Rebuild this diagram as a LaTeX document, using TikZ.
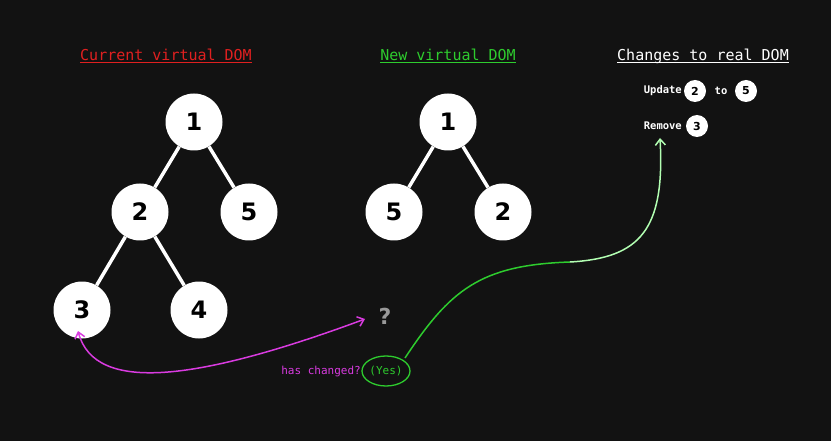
\documentclass[tikz,border=0pt]{standalone}
\usepackage{fontspec}
\setmainfont{DejaVu Sans Mono}
\newfontfamily\digitfont{DejaVu Sans}
\usetikzlibrary{arrows.meta,shapes.geometric}
\definecolor{bg}{HTML}{121212}
\definecolor{mag}{HTML}{D93BE0}
\definecolor{grn}{HTML}{2ECC2E}
\definecolor{tred}{HTML}{E02020}
\tikzset{
  x=1pt,y=-1pt,
  tnode/.style={circle,fill=white,minimum size=57pt,inner sep=0pt,font=\digitfont\bfseries\fontsize{24}{24}\selectfont,text=black},
  snode/.style={circle,fill=white,minimum size=22pt,inner sep=0pt,font=\digitfont\bfseries\fontsize{11}{11}\selectfont,text=black},
  edge/.style={white,line width=3.5pt},
  title/.style={font=\fontsize{15}{15}\selectfont},
  lbl/.style={text=white,font=\bfseries\fontsize{10.5}{10.5}\selectfont,inner sep=0pt}
}
\begin{document}
\begin{tikzpicture}
\fill[bg] (0,0) rectangle (831,441);
\useasboundingbox (0,0) rectangle (831,441);
\node[title,text=tred] (t1) at (166,56) {\underbar{Current virtual DOM}};
\node[title,text=grn] (t2) at (448,56) {\underbar{New virtual DOM}};
\node[title,text=white] (t3) at (703,56) {\underbar{Changes to real DOM}};
\node[tnode] (a1) at (194,122) {1};
\node[tnode] (a2) at (140,212) {2};
\node[tnode] (a5) at (249,212) {5};
\node[tnode] (a3) at (82,310) {3};
\node[tnode] (a4) at (199,310) {4};
\draw[edge] (a1) -- (a2); \draw[edge] (a1) -- (a5);
\draw[edge] (a2) -- (a3); \draw[edge] (a2) -- (a4);
\node[tnode] (b1) at (448,122) {1};
\node[tnode] (b5) at (394,212) {5};
\node[tnode] (b2) at (503,212) {2};
\draw[edge] (b1) -- (b5); \draw[edge] (b1) -- (b2);
\node[lbl,anchor=east] (up) at (682,91) {Update};
\node[snode] (s2) at (695,91) {2};
\node[lbl] (to) at (721,91) {to};
\node[snode] (s5) at (746,91) {5};
\node[lbl,anchor=east] (rm) at (682,126) {Remove};
\node[snode] (s3) at (697,126) {3};
\node[text=gray!80,font=\digitfont\bfseries\fontsize{22}{22}\selectfont] (q) at (385,316) {?};
\node[ellipse,draw=grn,line width=1.3pt,minimum width=48pt,minimum height=30pt,inner sep=0pt,text=grn,font=\fontsize{11}{11}\selectfont] (yes) at (386,371) {(Yes)};
\node[text=mag,anchor=east,inner sep=1pt,font=\fontsize{11}{11}\selectfont] (hc) at (362,372) {has changed?};
\coordinate (qa) at (365,319);
\coordinate (ca) at (78,331);
\draw[mag,line width=1.5pt,{Straight Barb[length=6pt,width=10pt]}-{Straight Barb[length=6pt,width=10pt]}] (ca) .. controls (95,395) and (200,380) .. (qa);
\coordinate (g1) at (405,358);
\coordinate (g2) at (570,262);
\coordinate (g3) at (660,138);
\draw[grn,line width=1.5pt] (g1) .. controls (450,290) and (480,265) .. (g2);
\draw[green!30!white,line width=1.5pt,-{Straight Barb[length=6pt,width=10pt]},shorten >=0pt] (g2) .. controls (640,258) and (665,230) .. (g3);
\end{tikzpicture}
\end{document}
